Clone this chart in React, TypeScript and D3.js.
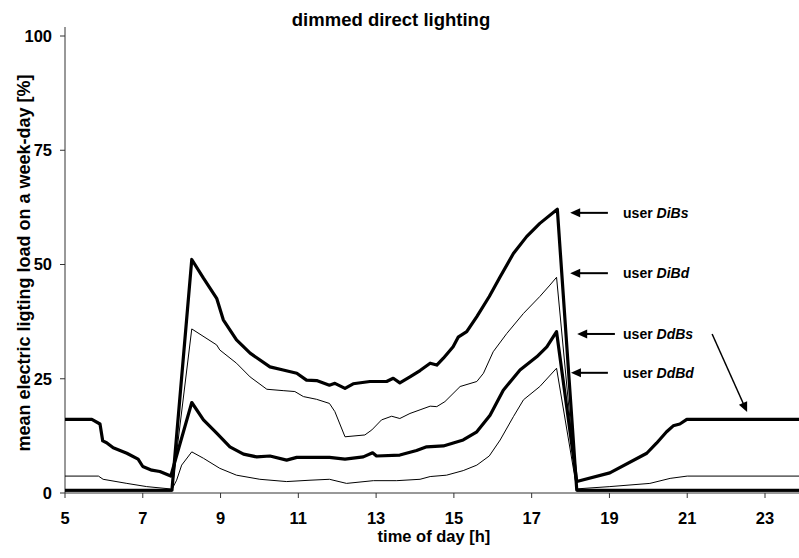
import React from 'react'
import * as d3 from 'd3'

// [hour, load %]
const diBs: [number, number][] = [
  [5, 0.6], [7.75, 0.6], [8.26, 51.1], [8.56, 47.0], [8.9, 42.6], [9.07, 37.9], [9.41, 33.5],
  [9.76, 30.6], [10.27, 27.6], [10.61, 26.9], [10.96, 26.2], [11.21, 24.7], [11.47, 24.6],
  [11.8, 23.6], [11.94, 24.0], [12.2, 22.9], [12.41, 23.9], [12.84, 24.4], [13.27, 24.4],
  [13.44, 25.1], [13.61, 24.1], [13.87, 25.4], [14.13, 26.8], [14.39, 28.4], [14.56, 28.0],
  [14.73, 29.5], [14.98, 32.0], [15.11, 34.1], [15.33, 35.3], [15.59, 38.6], [15.91, 43.0],
  [16.19, 47.3], [16.53, 52.4], [16.87, 56.1], [17.21, 59.0], [17.66, 62.1], [18.16, 0.6], [24, 0.6]
]
const diBd: [number, number][] = [
  [5, 0.4], [7.75, 0.4], [8.26, 35.9], [8.9, 32.4], [8.98, 31.3], [9.41, 28.4], [9.76, 25.4],
  [10.19, 22.7], [10.61, 22.4], [10.91, 22.2], [11.13, 21.1], [11.47, 20.5], [11.8, 19.6],
  [11.94, 17.8], [12.2, 12.3], [12.71, 12.7], [12.89, 13.8], [13.14, 16.0], [13.4, 16.8],
  [13.61, 16.3], [13.87, 17.4], [14.13, 18.2], [14.39, 19.0], [14.56, 18.9], [14.77, 20.0],
  [15.16, 23.3], [15.59, 24.4], [15.76, 26.2], [16.01, 30.9], [16.36, 34.9], [16.79, 39.3],
  [17.21, 43.0], [17.47, 45.5], [17.64, 47.2], [18.16, 0.4], [24, 0.4]
]
const ddBs: [number, number][] = [
  [5, 16.1], [5.69, 16.1], [5.9, 15.1], [5.97, 11.4], [6.07, 11.0], [6.24, 9.9], [6.59, 8.7],
  [6.88, 7.4], [7.0, 5.8], [7.23, 5.0], [7.44, 4.7], [7.72, 3.7], [8.26, 19.8], [8.56, 16.0],
  [8.9, 13.1], [9.24, 10.1], [9.59, 8.5], [9.93, 7.9], [10.27, 8.1], [10.7, 7.2], [10.96, 7.8],
  [11.8, 7.8], [12.2, 7.4], [12.67, 7.9], [12.91, 8.8], [13.01, 8.1], [13.61, 8.3], [14.04, 9.3],
  [14.3, 10.1], [14.73, 10.3], [15.24, 11.6], [15.59, 13.4], [15.93, 17.0], [16.27, 22.5],
  [16.7, 26.9], [17.13, 29.8], [17.39, 32.0], [17.64, 35.3], [18.16, 2.5], [19.01, 4.4],
  [19.96, 8.7], [20.21, 10.9], [20.47, 13.4], [20.64, 14.7], [20.81, 15.1], [20.99, 16.1], [24, 16.1]
]
const ddBd: [number, number][] = [
  [5, 3.7], [5.86, 3.7], [5.98, 3.0], [6.59, 2.1], [7.1, 1.4], [7.7, 0.9], [7.75, 0.8],
  [7.87, 2.8], [8.0, 6.1], [8.26, 9.0], [8.56, 7.6], [8.98, 5.4], [9.41, 3.9], [10.01, 3.0],
  [10.7, 2.5], [11.3, 2.8], [11.8, 3.0], [12.24, 2.1], [12.93, 2.7], [13.53, 2.7], [14.13, 3.0],
  [14.39, 3.6], [14.81, 3.9], [15.24, 4.9], [15.59, 6.1], [15.91, 8.1], [16.19, 11.6],
  [16.53, 16.7], [16.79, 20.4], [17.21, 23.3], [17.64, 27.3], [18.16, 0.9], [19.01, 1.4],
  [20.04, 2.1], [20.56, 3.2], [21.0, 3.7], [24, 3.7]
]

const xTicks = [5, 7, 9, 11, 13, 15, 17, 19, 21, 23]
const yTicks = [0, 25, 50, 75, 100]

// labels: name, arrow tip hour, arrow tail hour, level
const labelNames = ['DiBs', 'DiBd', 'DdBs', 'DdBd']
const labelTip = [17.99, 17.99, 18.17, 18.01]
const labelTail = [18.96, 18.96, 19.14, 18.96]
const labelLevel = [61.3, 48.1, 34.8, 26.3]

const series = [
  { data: ddBd, w: 1 },
  { data: diBd, w: 1 },
  { data: ddBs, w: 3.2 },
  { data: diBs, w: 3.2 },
]

const W = 799
const H = 558
const FONT = "Arial, 'Liberation Sans', sans-serif"

export default function App() {
  const x = d3.scaleLinear().domain([5, 23]).range([65, 765])
  const y = d3.scaleLinear().domain([0, 100]).range([493, 36])
  const line = d3.line<[number, number]>()
    .x(d => x(d[0]))
    .y(d => y(d[1]))

  const head = (tx: number, ty: number, angle: number) => {
    // filled triangle pointing along angle
    const len = 10, half = 4.5
    const c = Math.cos(angle), s = Math.sin(angle)
    const bx = tx - c * len, by = ty - s * len
    return `M${tx},${ty}L${bx - s * half},${by + c * half}L${bx + s * half},${by - c * half}Z`
  }

  const dx1 = x(21.64), dy1 = y(34.8), dx2 = x(22.54), dy2 = y(17.7)
  const dAng = Math.atan2(dy2 - dy1, dx2 - dx1)

  return (
    <svg width={W} height={H} style={{ position: 'absolute', left: 0, top: 0, background: '#fff' }}
      fontFamily={FONT} fontWeight="bold">
      <defs>
        <clipPath id="plotClip">
          <rect x={0} y={0} width={W} height={H} />
        </clipPath>
      </defs>

      <text x={391} y={26} textAnchor="middle" fontSize={18.5}>dimmed direct lighting</text>

      {/* y axis */}
      <line x1={x(5)} x2={x(5)} y1={y(0)} y2={27} stroke="#333" />
      {yTicks.map(t => (
        <g key={t}>
          <line x1={x(5) - 5} x2={x(5)} y1={y(t)} y2={y(t)} stroke="#333" />
          <text x={x(5) - 13} y={y(t)} dy="0.36em" textAnchor="end" fontSize={16.5}>{t}</text>
        </g>
      ))}
      <text transform={`translate(30,${263}) rotate(-90)`} textAnchor="middle" fontSize={18}>
        mean electric ligting load on a week-day [%]
      </text>

      {/* x axis */}
      <line x1={x(5)} x2={W} y1={y(0)} y2={y(0)} stroke="#333" />
      {xTicks.map(t => (
        <g key={t}>
          <line x1={x(t)} x2={x(t)} y1={y(0)} y2={y(0) + 5} stroke="#333" />
          <text x={x(t)} y={524} textAnchor="middle" fontSize={16.5}>{t}</text>
        </g>
      ))}
      <text x={434} y={542} textAnchor="middle" fontSize={16.5}>time of day [h]</text>

      <g clipPath="url(#plotClip)">
        {series.map((s, i) => (
          <path key={i} d={line(s.data) ?? ''} fill="none" stroke="#000" strokeWidth={s.w}
            strokeLinejoin="round" />
        ))}
      </g>

      {labelNames.map((n, i) => (
        <g key={n}>
          <line x1={x(labelTail[i])} x2={x(labelTip[i]) + 8} y1={y(labelLevel[i])} y2={y(labelLevel[i])}
            stroke="#000" strokeWidth={2} />
          <path d={head(x(labelTip[i]), y(labelLevel[i]), Math.PI)} fill="#000" />
          <text x={x(19.35)} y={y(labelLevel[i])} dy="0.36em" fontSize={14}>
            user <tspan fontStyle="italic">{n}</tspan>
          </text>
        </g>
      ))}

      <line x1={dx1} y1={dy1} x2={dx2 - Math.cos(dAng) * 8} y2={dy2 - Math.sin(dAng) * 8}
        stroke="#000" strokeWidth={1.5} />
      <path d={head(dx2, dy2, dAng)} fill="#000" />
    </svg>
  )
}
